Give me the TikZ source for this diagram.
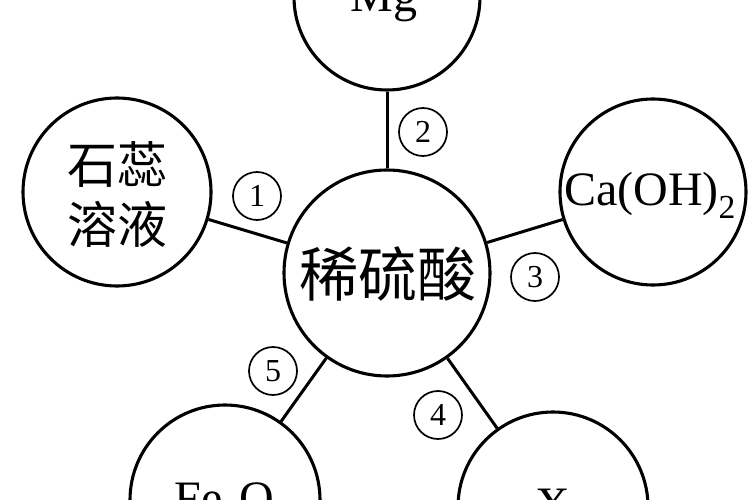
\documentclass[tikz,border=0pt]{standalone}
\usepackage{fontspec}
\setmainfont{Liberation Serif}
\newfontfamily\cjk{Noto Sans CJK SC}
\begin{document}
\begin{tikzpicture}[x=1pt,y=-1pt,
  ring/.style={circle,draw,line width=3.1pt,inner sep=0pt},
  link/.style={line width=3pt},
  numlbl/.style={circle,draw,line width=1.7pt,minimum size=48pt,inner sep=0pt,font=\fontsize{32}{32}\selectfont},
  chem/.style={font=\fontsize{48}{50}\selectfont,inner sep=0pt},
  cjktxt/.style={font=\cjk\fontsize{50}{60}\selectfont,inner sep=0pt,align=center}]
\clip (0,0) rectangle (750,500);
\fill[white] (0,0) rectangle (750,500);
% circles
\node[ring,minimum size=186pt] (mg) at (387,-3) {};
\node[ring,minimum size=188pt] (litmus) at (117,192) {};
\node[ring,minimum size=186pt] (caoh) at (653,192) {};
\node[ring,minimum size=206pt] (acid) at (387,273) {};
\node[ring,minimum size=190pt] (fe) at (225,500) {};
\node[ring,minimum size=190pt] (xn) at (553,507) {};
% texts
\node[chem,anchor=base] (tmg) at (384,12) {Mg};
\node[cjktxt] (tlit) at (117,194) {石蕊\\溶液};
\node[chem,anchor=base] (tca) at (650,205) {Ca(OH)\textsubscript{2}};
\node[cjktxt,font=\cjk\fontsize{59}{60}\selectfont] (tacid) at (388,274) {稀硫酸};
\node[chem,anchor=base] (tfe) at (233,514) {Fe\textsubscript{2}O\textsubscript{3}};
\node[chem,anchor=base] (tx) at (553,520) {X};
% connectors
\draw[link] (litmus) -- (acid);
\draw[link] (mg) -- (acid);
\draw[link] (acid) -- (caoh);
\draw[link] (acid) -- (xn);
\draw[link] (acid) -- (fe);
% circled numbers
\node[numlbl] (n1) at (257,196) {1};
\node[numlbl] (n2) at (423,132) {2};
\node[numlbl] (n3) at (535,277) {3};
\node[numlbl] (n4) at (438,415) {4};
\node[numlbl] (n5) at (273,371) {5};
\end{tikzpicture}
\end{document}
